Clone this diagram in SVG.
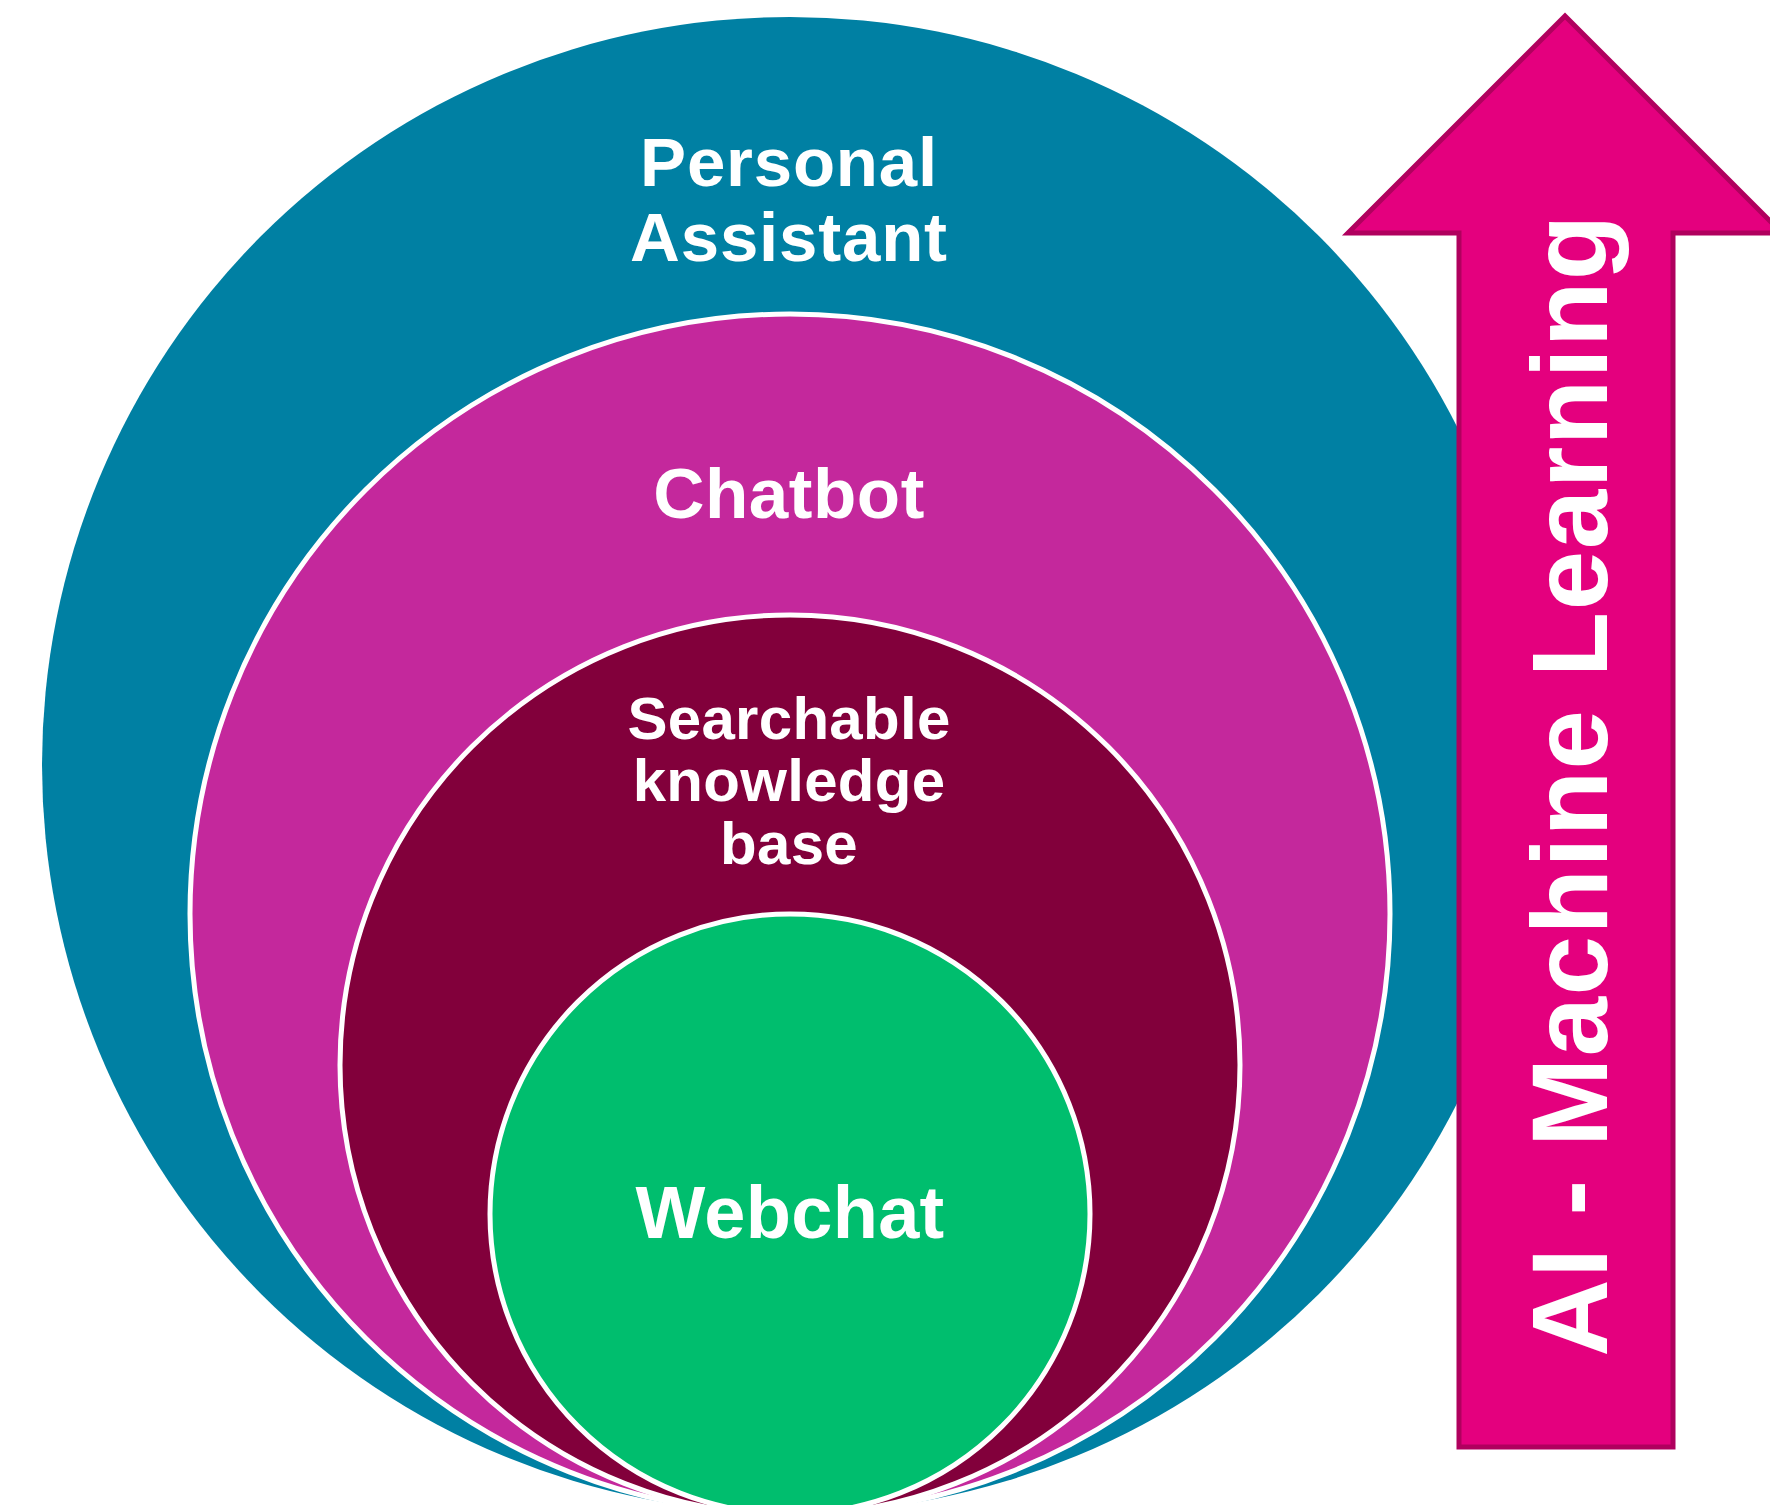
<svg xmlns="http://www.w3.org/2000/svg" width="1770" height="1505" viewBox="0 0 1770 1505">
<style>
.lbl{font-family:"Liberation Sans",Arial,sans-serif;font-weight:bold;fill:#ffffff;text-anchor:middle}
.ring{stroke:#ffffff;stroke-width:5}
</style>
<rect width="1770" height="1505" fill="#ffffff"/>
<g id="personal-assistant">
<circle cx="790" cy="765" r="748" fill="#0080A3"/>
<text class="lbl" x="789" y="186" font-size="69" letter-spacing="0.8">Personal</text>
<text class="lbl" x="789" y="261" font-size="69" letter-spacing="0.8">Assistant</text>
</g>
<g id="ai-machine-learning">
<polygon points="1565,16 1782,233 1673,233 1673,1447 1459,1447 1459,233 1348,233" fill="#E4007E" stroke="#B0005E" stroke-width="5" stroke-linejoin="miter"/>
<text class="lbl" transform="translate(1607,785) rotate(-90)" x="0" y="0" font-size="107" letter-spacing="1.5">AI - Machine Learning</text>
</g>
<g id="chatbot">
<circle class="ring" cx="790" cy="914" r="600" fill="#C4289C"/>
<text class="lbl" x="789" y="518" font-size="71" letter-spacing="0.5">Chatbot</text>
</g>
<g id="searchable-knowledge-base">
<circle class="ring" cx="790" cy="1065" r="450" fill="#82003B"/>
<text class="lbl" x="789" y="739" font-size="60" letter-spacing="0.3">Searchable</text>
<text class="lbl" x="789" y="801" font-size="60" letter-spacing="0.3">knowledge</text>
<text class="lbl" x="789" y="864" font-size="60" letter-spacing="0.3">base</text>
</g>
<g id="webchat">
<circle class="ring" cx="790" cy="1214" r="300" fill="#00BE6E"/>
<text class="lbl" x="790" y="1238" font-size="74" letter-spacing="0.3">Webchat</text>
</g>
<g id="connectors"></g>
</svg>
